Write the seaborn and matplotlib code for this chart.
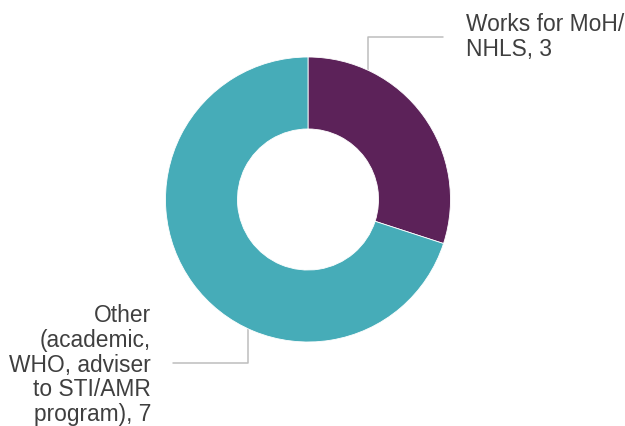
import matplotlib
matplotlib.use("Agg")
import matplotlib.pyplot as plt
from matplotlib.lines import Line2D
import seaborn as sns

# Survey breakdown of respondents by affiliation
categories = ["Works for MoH/\nNHLS", "Other\n(academic,\nWHO, adviser\nto STI/AMR\nprogram)"]
counts = [3, 7]
colors = ["#5C2259", "#46ACB8"]

sns.set_theme(style="white")
plt.rcParams["font.family"] = ["Liberation Sans", "DejaVu Sans"]

W, H = 625, 426
fig = plt.figure(figsize=(W / 100, H / 100), dpi=100)
fig.patch.set_facecolor("white")

# Donut geometry in pixel units
cx, cy, R = 308, 199.5, 142.5
ax = fig.add_axes([(cx - R) / W, 1 - (cy + R) / H, 2 * R / W, 2 * R / H])
ax.pie(
    counts,
    colors=colors,
    startangle=90,
    counterclock=False,
    radius=1,
    wedgeprops=dict(width=0.505, edgecolor="white", linewidth=0.6),
)
ax.set_xlim(-1, 1)
ax.set_ylim(-1, 1)
ax.set_aspect("equal")
ax.axis("off")


def px(x, y):
    return x / W, 1 - y / H


line_kw = dict(color="#BDBDBD", linewidth=1.1, transform=fig.transFigure, zorder=0)

# Leader line for the first slice
xs, ys = zip(px(368, 72), px(368, 37), px(443, 37))
fig.add_artist(Line2D(xs, ys, **line_kw))
# Leader line for the second slice
xs, ys = zip(px(248, 327), px(248, 363), px(173, 363))
fig.add_artist(Line2D(xs, ys, **line_kw))

labels = [f"{c}, {v}" for c, v in zip(categories, counts)]
text_kw = dict(fontsize=16.4, color="#3F3F3F", linespacing=1.1)
fig.text(*px(466, 13), labels[0], ha="left", va="top", **text_kw)
fig.text(*px(151, 304), labels[1], ha="right", va="top", multialignment="right", **text_kw)

fig.savefig("out.png", dpi=100, facecolor="white")
